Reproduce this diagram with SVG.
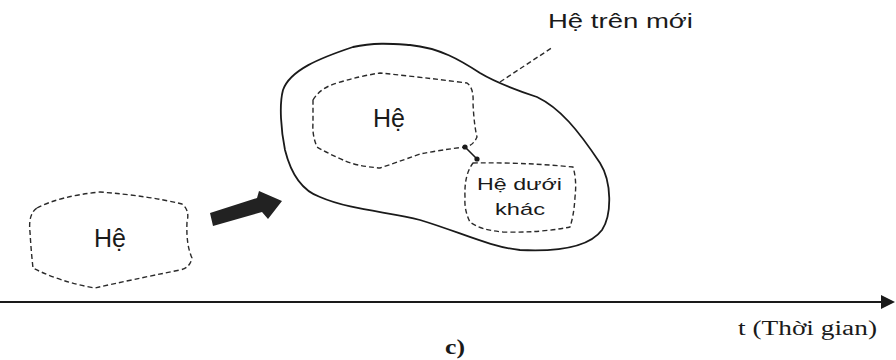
<svg xmlns="http://www.w3.org/2000/svg" width="896" height="360" viewBox="0 0 896 360">
<style>
.dash{fill:none;stroke:#2a2a2a;stroke-width:1.4;stroke-dasharray:5 3;stroke-linejoin:round}
.solid{fill:none;stroke:#1a1a1a;stroke-width:1.8}
.lbl{font-family:"Liberation Sans","DejaVu Sans",sans-serif;fill:#1a1a1a}
.ser{font-family:"Liberation Serif","DejaVu Serif",serif;fill:#1a1a1a}
</style>
<rect width="896" height="360" fill="#ffffff"/>
<g id="he-old">
<path class="dash" d="M 37,208 Q 60,196 100,192 Q 150,196 182,204 Q 190,210 187,222 Q 186,245 192,258 Q 190,268 180,270 Q 130,280 95,288 Q 60,282 33,268 Q 31,250 30,232 Q 28,214 37,208 Z"/>
<text class="lbl" x="94" y="247" font-size="25">Hệ</text>
</g>
<g id="transition-arrow">
<polygon points="210,213 213,226 262,212 268,219 282,201 259,191 257,198" fill="#222"/>
</g>
<g id="he-tren-moi">
<path class="solid" d="M 283,90 C 290,70 320,58 353,47 C 375,42 395,44 410,45 C 440,48 460,60 480,73 C 495,82 510,88 537,97 C 560,108 578,130 600,163 C 612,182 612,215 602,230 C 590,246 560,252 520,250 C 490,247 460,232 420,220 C 390,212 350,210 320,197 C 300,190 290,170 285,150 C 281,130 279,105 283,90 Z"/>
<text class="lbl" x="548" y="28" font-size="20" textLength="145" lengthAdjust="spacingAndGlyphs">Hệ trên mới</text>
</g>
<g id="he-inner">
<path class="dash" d="M 313,100 Q 320,88 337,83 Q 360,76 380,73 Q 420,77 467,83 Q 474,88 473,103 Q 474,125 477,137 Q 473,146 465,147 Q 440,150 420,154 Q 395,163 380,168 Q 355,166 343,160 Q 325,152 317,147 Q 312,135 313,123 Z"/>
<text class="lbl" x="373" y="127" font-size="25">Hệ</text>
</g>
<g id="he-duoi-khac">
<path class="dash" d="M 473,163 Q 520,162 573,167 Q 577,180 575,197 Q 574,215 570,227 Q 540,233 503,232 Q 480,230 470,222 Q 464,210 465,197 Q 464,175 473,163 Z"/>
<text class="lbl" x="477" y="190" font-size="17" textLength="85" lengthAdjust="spacingAndGlyphs">Hệ dưới</text>
<text class="lbl" x="495" y="215" font-size="17" textLength="50" lengthAdjust="spacingAndGlyphs">khác</text>
</g>
<g id="connectors">
<line x1="500" y1="82" x2="553" y2="47" class="dash" stroke-dasharray="3 2.5"/>
<line x1="465" y1="147" x2="477" y2="159" stroke="#1a1a1a" stroke-width="1.6"/>
<circle cx="465" cy="147" r="2.6" fill="#1a1a1a"/>
<circle cx="477" cy="159" r="2.6" fill="#1a1a1a"/>
<line x1="0" y1="302" x2="884" y2="302" stroke="#1a1a1a" stroke-width="2"/>
<polygon points="881,295 895,302 881,309" fill="#1a1a1a"/>
</g>
<g id="labels">
<text class="ser" x="738" y="335" font-size="20" textLength="139" lengthAdjust="spacingAndGlyphs">t (Thời gian)</text>
<text class="ser" x="445" y="354" font-size="21" font-weight="bold" textLength="20" lengthAdjust="spacingAndGlyphs">c)</text>
</g>
</svg>
